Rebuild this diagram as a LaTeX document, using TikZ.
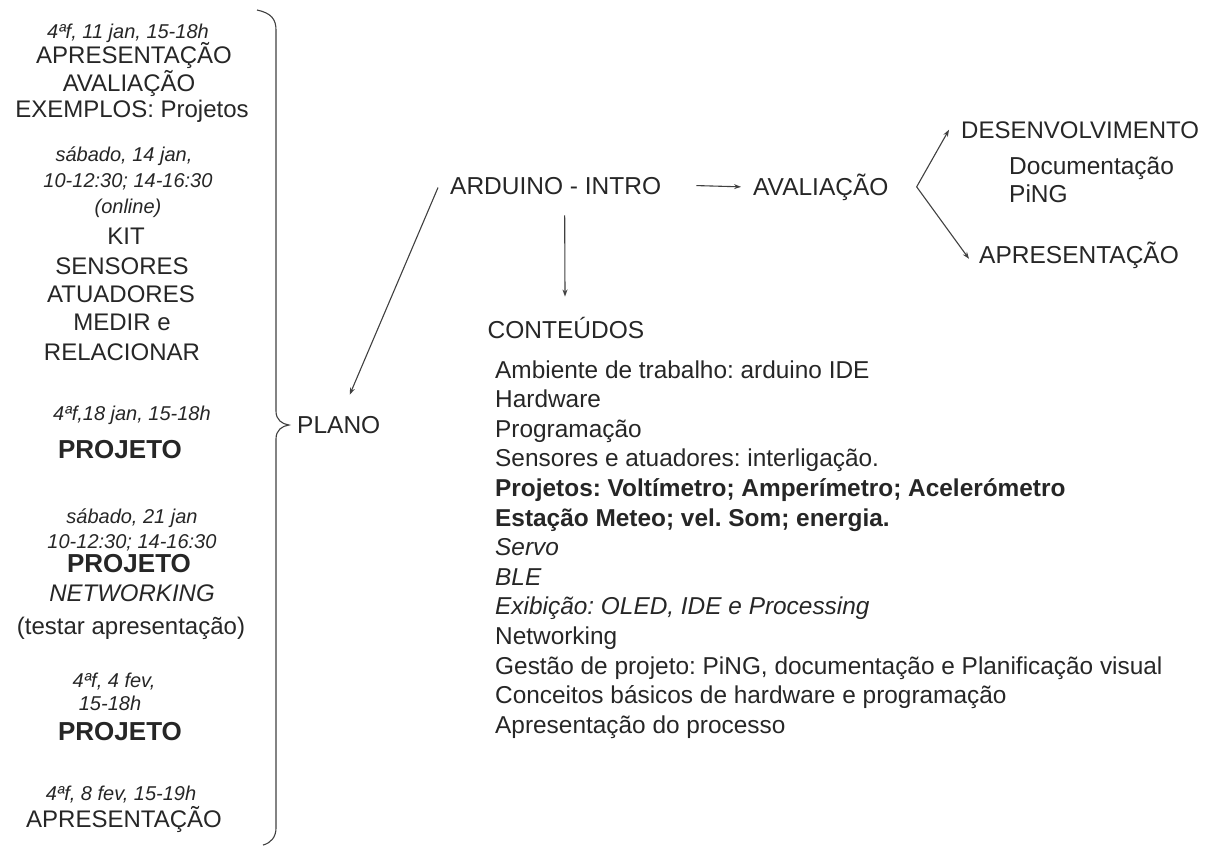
\documentclass[tikz,border=0pt]{standalone}
\usepackage{fontspec}
\setmainfont{Liberation Sans}
\frenchspacing
\usetikzlibrary{arrows.meta}
\tikzset{
  datetxt/.style={font=\fontsize{20}{24}\selectfont\itshape, anchor=base, inner sep=0pt, text=black!85},
  bigtxt/.style={font=\fontsize{24}{29}\selectfont, anchor=base, inner sep=0pt, text=black!85},
  boldtxt/.style={font=\fontsize{26}{30}\selectfont\bfseries, anchor=base, inner sep=0pt, text=black!85},
  headtxt/.style={font=\fontsize{24.5}{29}\selectfont, anchor=base west, inner sep=0pt, text=black!85},
  listtxt/.style={font=\fontsize{24.4}{29}\selectfont, anchor=base west, inner sep=0pt, text=black!85},
  arr/.style={draw=black!75, line width=1.1pt, -{Stealth[length=7pt,width=5pt]}}
}
\begin{document}
\begin{tikzpicture}[x=1pt,y=-1pt]
\useasboundingbox (0,0) rectangle (1220,846);
\node[datetxt] (d1) at (128,38) {4ªf, 11 jan, 15-18h};
\node[bigtxt] (apres1) at (134,63) {APRESENTAÇÃO};
\node[bigtxt] (aval1) at (129,91) {AVALIAÇÃO};
\node[bigtxt] (exemplos) at (132,117) {EXEMPLOS: Projetos};
\node[datetxt] (d2) at (124,161) {sábado, 14 jan,};
\node[datetxt] (d2b) at (128,187) {10-12:30; 14-16:30};
\node[datetxt] (online) at (128,213) {(online)};
\node[bigtxt] (kit) at (126,244) {KIT};
\node[bigtxt] (sensores) at (122,274) {SENSORES};
\node[bigtxt] (atuadores) at (121,302) {ATUADORES};
\node[bigtxt] (medir) at (122,330) {MEDIR e};
\node[bigtxt] (relacionar) at (122,360) {RELACIONAR};
\node[datetxt] (d3) at (132,420) {4ªf,18 jan, 15-18h};
\node[boldtxt] (proj1) at (120,458) {PROJETO};
\node[datetxt] (d4) at (132,523) {sábado, 21 jan};
\node[datetxt] (d4b) at (132,548) {10-12:30; 14-16:30};
\node[boldtxt] (proj2) at (129,572) {PROJETO};
\node[bigtxt, font=\fontsize{24}{29}\selectfont\itshape] (networking) at (132,601) {NETWORKING};
\node[bigtxt] (testar) at (131,634) {(testar apresentação)};
\node[datetxt] (d5) at (114,687) {4ªf, 4 fev,};
\node[datetxt] (d5b) at (110,710) {15-18h};
\node[boldtxt] (proj3) at (120,740) {PROJETO};
\node[datetxt] (d6) at (121,800) {4ªf, 8 fev, 15-19h};
\node[bigtxt] (apres2) at (124,827) {APRESENTAÇÃO};
\draw[black!75, line width=1.1pt] (257,10) .. controls (271,13) and (276,19) .. (276,30)
  -- (276,411) .. controls (276,420) and (282,424) .. (289,425)
  .. controls (282,426) and (276,430) .. (276,439)
  -- (276,828) .. controls (276,837) and (271,843) .. (263,845);
\node[headtxt] (plano) at (297,433) {PLANO};
\node[headtxt] (arduino) at (450,194) {ARDUINO - INTRO};
\node[headtxt] (aval2) at (753,195) {AVALIAÇÃO};
\node[headtxt, font=\fontsize{24}{29}\selectfont] (desenv) at (961,138) {DESENVOLVIMENTO};
\node[headtxt] (docum) at (1009,174) {Documentação};
\node[headtxt] (ping) at (1009,202) {PiNG};
\node[headtxt] (apres3) at (979,263) {APRESENTAÇÃO};
\node[bigtxt, font=\fontsize{24.5}{29}\selectfont] (conteudos) at (566,338) {CONTEÚDOS};
\node[listtxt] (l1) at (495,378.0) {Ambiente de trabalho: arduino IDE};
\node[listtxt] (l2) at (495,407.6) {Hardware};
\node[listtxt] (l3) at (495,437.2) {Programação};
\node[listtxt] (l4) at (495,466.8) {Sensores e atuadores: interligação.};
\node[listtxt, font=\fontsize{24.4}{29}\selectfont\bfseries] (l5) at (495,496.4) {Projetos: Voltímetro; Amperímetro; Acelerómetro};
\node[listtxt, font=\fontsize{24.4}{29}\selectfont\bfseries] (l6) at (495,526.0) {Estação Meteo; vel. Som; energia.};
\node[listtxt, font=\fontsize{24.4}{29}\selectfont\itshape] (l7) at (495,555.6) {Servo};
\node[listtxt, font=\fontsize{24.4}{29}\selectfont\itshape] (l8) at (495,585.2) {BLE};
\node[listtxt, font=\fontsize{24.4}{29}\selectfont\itshape] (l9) at (495,614.8) {Exibição: OLED, IDE e Processing};
\node[listtxt] (l10) at (495,644.4) {Networking};
\node[listtxt] (l11) at (495,674.0) {Gestão de projeto: PiNG, documentação e Planificação visual};
\node[listtxt] (l12) at (495,703.6) {Conceitos básicos de hardware e programação};
\node[listtxt] (l13) at (495,733.2) {Apresentação do processo};
\draw[arr] ([xshift=-12pt,yshift=-2pt]arduino.west) -- ([xshift=11pt,yshift=21pt]plano.north);
\draw[arr] ([xshift=9pt,yshift=-21pt]arduino.south) -- ([xshift=-1pt,yshift=20pt]conteudos.north);
\draw[arr] ([xshift=35pt]arduino.east) -- ([xshift=-12pt]aval2.west);
\draw[arr] ([xshift=28pt]aval2.east) -- ([xshift=-12pt]desenv.west);
\draw[arr] ([xshift=28pt]aval2.east) -- ([xshift=-10pt,yshift=-4pt]apres3.west);
\end{tikzpicture}
\end{document}
